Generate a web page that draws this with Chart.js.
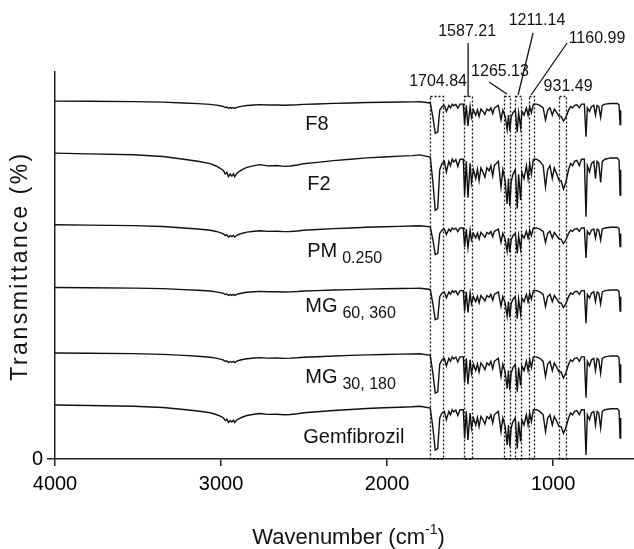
<!DOCTYPE html>
<html>
<head>
<meta charset="utf-8">
<script src="https://cdn.jsdelivr.net/npm/chart.js@4/dist/chart.umd.min.js"></script>
<style>
    html, body { margin: 0; padding: 0; background: #fff; overflow: hidden; }
</style>
</head>
<body>
<canvas id="ftirChart" width="634" height="549"></canvas>
<script>
// ---- data ----
// broad O-H / C-H region (Gemfibrozil trace, depth below its baseline)
const broadWavenumbers = [4000, 3800, 3526, 3350, 3225, 3140, 3065, 3030, 3005, 2985,
    2975, 2965, 2955, 2945, 2935, 2925, 2918, 2905, 2894, 2870,
    2844, 2800, 2764, 2720, 2664, 2620, 2583, 2540, 2503, 2420,
    2323, 2220, 2122, 2020, 1921, 1850];
const broadDepth = [-1, -0.5, 0.2, 1.5, 3.5, 5, 6.8, 8.5, 10.2, 12,
    14.5, 13.2, 16.5, 14.5, 16, 14.2, 16.5, 14, 12.8, 11,
    9.5, 8.2, 7.5, 8.4, 8.2, 8.8, 8.5, 7.8, 6.8, 5.8,
    4.5, 3.5, 2.5, 1.8, 1.2, 0.8];

// fingerprint region (Gemfibrozil trace)
const fingerprintWavenumbers = [1801, 1740, 1724, 1710, 1695, 1683, 1669, 1655, 1643, 1628,
    1618, 1608, 1598, 1586, 1574, 1561, 1541, 1533, 1523, 1513,
    1500, 1492, 1480, 1466, 1456, 1446, 1435, 1423, 1411, 1399,
    1385, 1375, 1364, 1354, 1342, 1330, 1314, 1303, 1289, 1277,
    1269, 1261, 1253, 1242, 1228, 1216, 1208, 1196, 1188, 1175,
    1161, 1151, 1141, 1131, 1119, 1100, 1080, 1060, 1046, 1033,
    1019, 1005, 993, 978, 964, 952, 938, 924, 907, 895,
    883, 871, 857, 842, 830, 812, 802, 794, 781, 769,
    755, 745, 735, 725, 714, 704, 688, 654, 613, 603, 597, 593];
const fingerprintDepth = [0.3, 2, 22, 44, 42.5, 12, 7, 5.4, 13.8, 5.4,
    8.8, 3.7, 6, 4, 9.4, 3.7, 3.7, 32.4, 5.4, 34,
    7, 22, 12, 19, 11.5, 20.6, 10.5, 13.8, 18, 10.5,
    12.8, 8.8, 17, 8.8, 7, 5.4, 25.6, 12, 20.6, 39,
    19, 40.8, 22, 15.5, 12, 42.5, 15.5, 35.8, 13.8, 19,
    8.8, 19, 7, 15.5, 3.7, 3.7, 5.4, 8.8, 25.6, 12,
    8.8, 19, 10.5, 15.5, 20.6, 20.6, 27.3, 22, 12, 7,
    8.8, 5.4, 4.7, 8.8, 3.7, 3.7, 49, 8.8, 13.8, 7,
    5.4, 19, 5.4, 7, 22, 5.4, 3.7, 2.7, 2.7, 4.7, 32, 12];

// one entry per trace, top to bottom
const sampleNames   = ['F8', 'F2', 'PM', 'MG', 'MG', 'Gemfibrozil'];
const sampleSubs    = ['', '', '0.250', '60, 360', '30, 180', ''];
const baselines     = [357.5, 304.5, 233.5, 171, 105.5, 53];
const broadScale    = [0.42, 1.35, 0.7, 0.45, 0.55, 1];
const peakScale     = [0.72, 1.27, 0.66, 0.72, 0.9, 1];
const labelAnchor   = [[2493, 329], [2481, 269], [2481, 202], [2493, 147], [2493, 76], [2505, 16]];

const xTicks = [4000, 3000, 2000, 1000];

// dashed boxes [from, to] in cm-1
const boxRanges = [[1741, 1664], [1536, 1486], [1295, 1259], [1229, 1195], [1145, 1115], [963, 924]];
const boxTop = 363;

const peakLabels = [
    ['1704.84', 1693, 377],
    ['1587.21', 1518, 427],
    ['1265.13', 1320, 387],
    ['1211.14', 1097, 438],
    ['1160.99', 736, 420],
    ['931.49', 910, 372],
];
const leaderLines = [
    [1512, 416, 1512, 362],
    [1386, 377, 1278, 365],
    [1121, 426, 1211, 364],
    [916, 416, 1133, 364],
];

const FONT = '"Liberation Sans", Arial, sans-serif';

// ---- build datasets ----
const datasets = sampleNames.map((name, i) => {
    const pts = [];
    broadWavenumbers.forEach((wn, k) => pts.push({ x: wn, y: baselines[i] - broadScale[i] * broadDepth[k] }));
    fingerprintWavenumbers.forEach((wn, k) => pts.push({ x: wn, y: baselines[i] - peakScale[i] * fingerprintDepth[k] }));
    return {
        label: name + (sampleSubs[i] ? ' ' + sampleSubs[i] : ''),
        data: pts,
        borderColor: '#111',
        borderWidth: 1.4,
        pointRadius: 0,
        tension: 0,
        fill: false,
    };
});

const overlay = {
    id: 'overlay',
    afterDatasetsDraw(chart) {
        const { ctx, scales: { x, y }, chartArea } = chart;
        ctx.save();

        // dashed boxes
        ctx.strokeStyle = '#111';
        ctx.lineWidth = 1.3;
        ctx.setLineDash([2, 2]);
        boxRanges.forEach(([a, b]) => {
            const x1 = Math.round(x.getPixelForValue(a)) + 0.5;
            const x2 = Math.round(x.getPixelForValue(b)) + 0.5;
            const yt = Math.round(y.getPixelForValue(boxTop)) + 0.5;
            const yb = y.getPixelForValue(0);
            ctx.strokeRect(x1, yt, x2 - x1, yb - yt);
        });
        ctx.setLineDash([]);

        // leader lines
        ctx.lineWidth = 1.3;
        leaderLines.forEach(([a, v1, b, v2]) => {
            ctx.beginPath();
            ctx.moveTo(x.getPixelForValue(a), y.getPixelForValue(v1));
            ctx.lineTo(x.getPixelForValue(b), y.getPixelForValue(v2));
            ctx.stroke();
        });

        // peak labels
        ctx.fillStyle = '#111';
        ctx.font = '16px ' + FONT;
        ctx.textAlign = 'center';
        ctx.textBaseline = 'middle';
        peakLabels.forEach(([t, wn, v]) => ctx.fillText(t, x.getPixelForValue(wn), y.getPixelForValue(v)));

        // trace labels with subscripts
        ctx.textAlign = 'left';
        ctx.textBaseline = 'alphabetic';
        sampleNames.forEach((name, i) => {
            const px = x.getPixelForValue(labelAnchor[i][0]);
            const py = y.getPixelForValue(labelAnchor[i][1]);
            ctx.font = '20px ' + FONT;
            ctx.fillText(name, px, py);
            if (sampleSubs[i]) {
                const w = ctx.measureText(name).width;
                ctx.font = '16px ' + FONT;
                ctx.fillText(sampleSubs[i], px + w + 5, py + 6);
            }
        });

        // x axis title with superscript
        ctx.textBaseline = 'middle';
        const tx = (chartArea.left + 634) / 2 + 4;
        const main = 'Wavenumber (cm';
        ctx.font = '22px ' + FONT;
        const wMain = ctx.measureText(main).width;
        ctx.font = '14px ' + FONT;
        const wSup = ctx.measureText('-1').width;
        ctx.font = '22px ' + FONT;
        const wEnd = ctx.measureText(')').width;
        const sx = tx - (wMain + wSup + wEnd) / 2;
        ctx.textAlign = 'left';
        ctx.fillText(main, sx, 538);
        ctx.font = '14px ' + FONT;
        ctx.fillText('-1', sx + wMain, 530);
        ctx.font = '22px ' + FONT;
        ctx.fillText(')', sx + wMain + wSup, 538);

        // y axis title
        ctx.translate(21, 266);
        ctx.rotate(-Math.PI / 2);
        ctx.textAlign = 'center';
        ctx.font = '23px ' + FONT;
        ctx.letterSpacing = '2.5px';
        ctx.fillText('Transmittance (%)', 0, 0);
        ctx.restore();
    },
};

new Chart(document.getElementById('ftirChart'), {
    type: 'line',
    data: { datasets },
    options: {
        responsive: false,
        animation: false,
        layout: { padding: { top: 72, right: 0, left: 0, bottom: 0 } },
        plugins: { legend: { display: false }, tooltip: { enabled: false } },
        scales: {
            x: {
                type: 'linear',
                reverse: true,
                min: 513,
                max: 4000,
                afterBuildTicks: s => { s.ticks = xTicks.map(v => ({ value: v })); },
                afterFit: s => { s.height = 90; },
                grid: { drawOnChartArea: false, drawTicks: true, tickLength: 7, color: '#222', lineWidth: 1.5 },
                border: { color: '#222', width: 1.5 },
                ticks: { color: '#000', font: { size: 20, family: FONT }, padding: 6, maxRotation: 0,
                         callback: v => String(v) },
            },
            y: {
                min: 0,
                max: 387,
                afterBuildTicks: s => { s.ticks = [{ value: 0 }]; },
                afterFit: s => { s.width = 55; },
                grid: { drawOnChartArea: false, drawTicks: true, tickLength: 8, color: '#222', lineWidth: 1.5 },
                border: { color: '#222', width: 1.5 },
                ticks: { color: '#000', font: { size: 20, family: FONT }, padding: 4,
                         callback: v => String(v) },
            },
        },
    },
    plugins: [overlay],
});
</script>
</body>
</html>
